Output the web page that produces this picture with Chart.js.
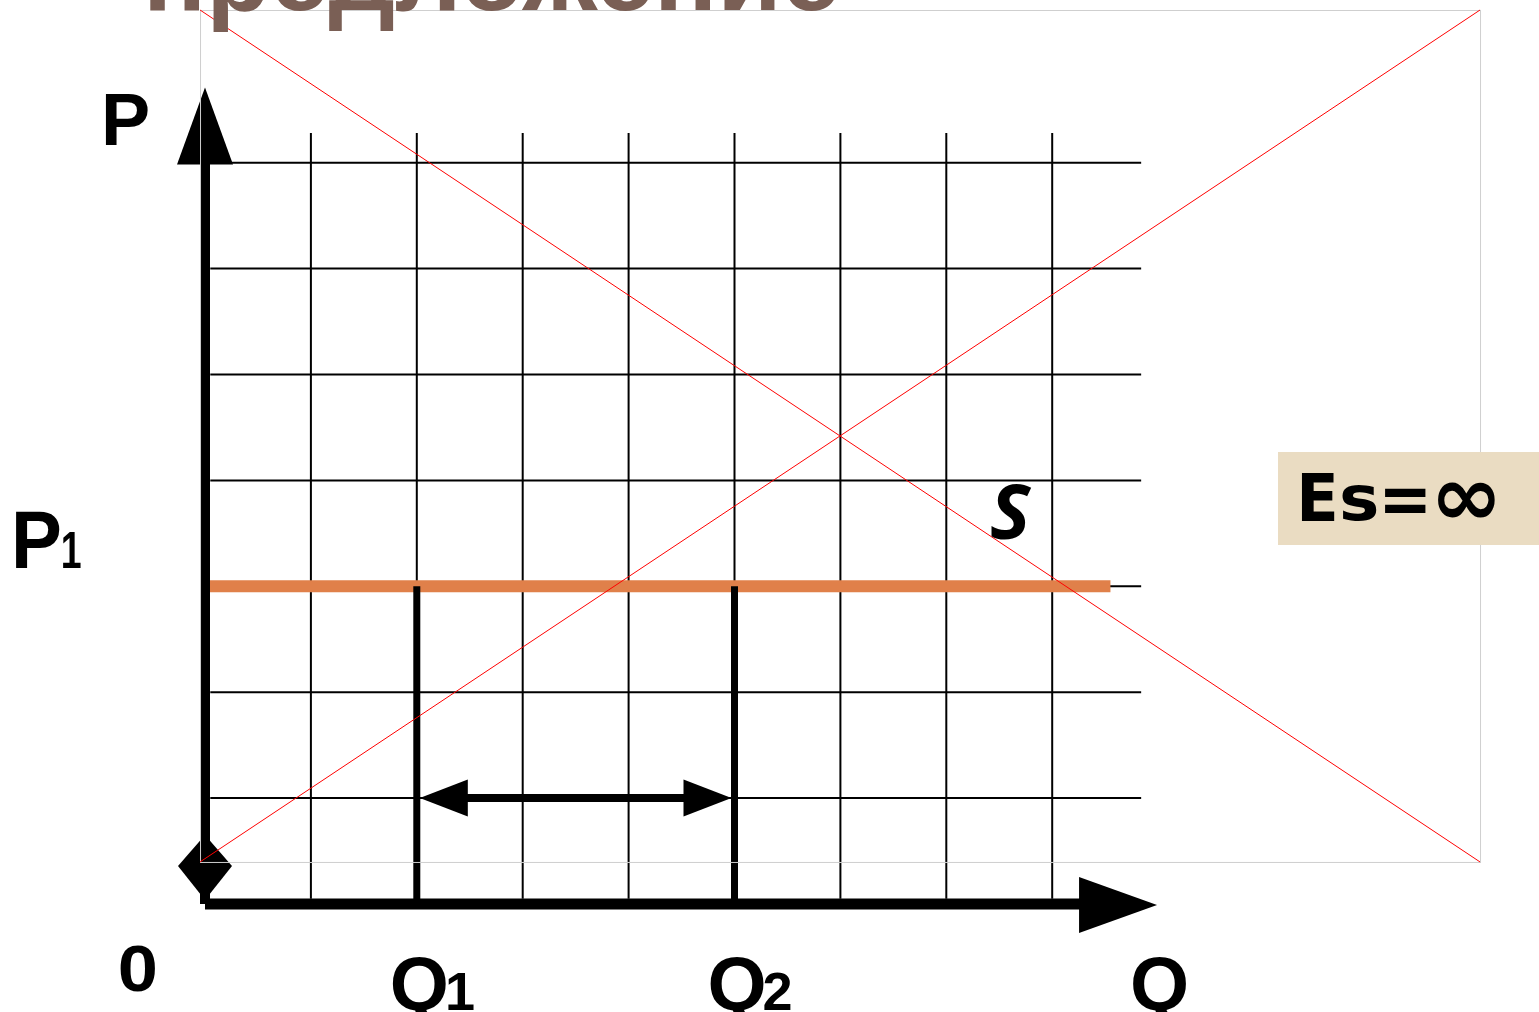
<!DOCTYPE html>
<html><head><meta charset="utf-8">
<script src="https://cdn.jsdelivr.net/npm/chart.js@4.4.0/dist/chart.umd.min.js"></script>
<style>html,body{margin:0;padding:0;background:#fff;overflow:hidden}#wrap{width:1539px;height:1012px;position:relative}</style>
</head><body><div id="wrap"><canvas id="c" width="1539" height="1012"></canvas></div>
<script>
// ---------- data (grid units: Q horizontally, P vertically) ----------
const gridQ = [1, 2, 3, 4, 5, 6, 7, 8];      // vertical grid lines
const gridP = [1, 2, 3, 4, 5, 6, 7];         // horizontal grid lines
const gridQMax = 8.84;                       // right end of horizontal grid lines
const gridPMax = 7.28;                       // top end of vertical grid lines
const supplyP = 3;                           // P1 (perfectly elastic supply)
const supplyQ = [0, 8.55];                   // extent of the S line
const qMarks = [2, 5];                       // Q1, Q2
const qSubs = ['1', '2'];
const arrowP = 1;                            // level of the double arrow
const axisQEnd = 8.99;                       // tip of Q axis arrow
const axisPEnd = 7.71;                       // tip of P axis arrow
const titleText = 'предложение';
const elasticityGlyphs = ['E', 's', '=', '∞'];
const supplyLabel = 'S';

// ---------- layout ----------
const U = 105.9, OX = 205, OY = 904, W = 1539, H = 1012;

const mk = (pts, color, w, order) => ({
  data: pts, borderColor: color, backgroundColor: color, borderWidth: w,
  pointRadius: 0, showLine: true, fill: false, tension: 0,
  borderCapStyle: 'butt', clip: false, order: order
});
const datasets = [];
gridQ.forEach(q => datasets.push(mk([{x: q, y: 0.05}, {x: q, y: gridPMax}], '#000', 2, 5)));
gridP.forEach(p => datasets.push(mk([{x: 0.05, y: p}, {x: gridQMax, y: p}], '#000', 2, 5)));
datasets.push(mk([{x: supplyQ[0], y: supplyP}, {x: supplyQ[1], y: supplyP}], '#E0804A', 12, 3));
qMarks.forEach(q => datasets.push(mk([{x: q, y: 0}, {x: q, y: supplyP}], '#000', 7, 2)));
datasets.push(mk([{x: qMarks[0] + 0.3, y: arrowP}, {x: qMarks[1] - 0.3, y: arrowP}], '#000', 8, 2));
datasets.push(mk([{x: 0, y: 0}, {x: 0, y: axisPEnd - 0.6}], '#000', 10, 1));
datasets.push(mk([{x: 0, y: 0}, {x: axisQEnd - 0.6, y: 0}], '#000', 11, 1));

function poly(ctx, pts, color) {
  ctx.beginPath();
  ctx.moveTo(pts[0][0], pts[0][1]);
  for (let i = 1; i < pts.length; i++) ctx.lineTo(pts[i][0], pts[i][1]);
  ctx.closePath();
  ctx.fillStyle = color;
  ctx.fill();
}
function fitText(ctx, txt, font, x, y, width, color) {
  ctx.save();
  ctx.font = font;
  const m = ctx.measureText(txt).width;
  ctx.translate(x, y);
  if (width) ctx.scale(width / m, 1);
  ctx.fillStyle = color;
  ctx.textBaseline = 'alphabetic';
  ctx.textAlign = 'left';
  ctx.fillText(txt, 0, 0);
  ctx.restore();
}
// draw a glyph so that its ink fills the box (l,t)-(r,b)
function inkBox(ctx, txt, font, l, t, r, b, color) {
  ctx.save();
  ctx.font = font;
  ctx.textBaseline = 'alphabetic';
  ctx.textAlign = 'left';
  const m = ctx.measureText(txt);
  const iw = m.actualBoundingBoxLeft + m.actualBoundingBoxRight;
  const ih = m.actualBoundingBoxAscent + m.actualBoundingBoxDescent;
  const sx = (r - l) / iw, sy = (b - t) / ih;
  ctx.translate(l + m.actualBoundingBoxLeft * sx, t + m.actualBoundingBoxAscent * sy);
  ctx.scale(sx, sy);
  ctx.fillStyle = color;
  ctx.fillText(txt, 0, 0);
  ctx.restore();
}

const decor = {
  id: 'decor',
  afterDatasetsDraw(chart) {
    const ctx = chart.ctx, xs = chart.scales.x, ys = chart.scales.y;
    const X = v => xs.getPixelForValue(v), Y = v => ys.getPixelForValue(v);
    const x0 = X(0), y0 = Y(0);
    ctx.save();
    // arrowheads
    const ty = Y(axisPEnd);
    poly(ctx, [[x0, ty], [x0 + 28, ty + 77], [x0 - 28, ty + 77]], '#000');
    const tx = X(axisQEnd);
    poly(ctx, [[tx, y0 + 1], [tx - 78, y0 - 27], [tx - 78, y0 + 29]], '#000');
    poly(ctx, [[x0, y0 - 69], [x0 + 27, y0 - 38], [x0, y0 - 4], [x0 - 27, y0 - 38]], '#000');
    const ay = Y(arrowP), l = X(qMarks[0]) + 3, r = X(qMarks[1]) - 3;
    poly(ctx, [[l, ay], [l + 48, ay - 18.5], [l + 48, ay + 18.5]], '#000');
    poly(ctx, [[r, ay], [r - 48, ay - 18.5], [r - 48, ay + 18.5]], '#000');

    // picture placeholder (grey frame with red cross)
    const rl = X(-0.047), rr = X(12.04), rt = Y(8.442), rb = Y(0.397);
    ctx.lineWidth = 1;
    ctx.strokeStyle = '#cfcfcf';
    ctx.strokeRect(rl + 0.5, rt + 0.5, rr - rl, rb - rt);
    ctx.strokeStyle = '#ff0000';
    ctx.beginPath();
    ctx.moveTo(rl, rt); ctx.lineTo(rr, rb);
    ctx.moveTo(rr, rt); ctx.lineTo(rl, rb);
    ctx.stroke();

    // title (cut off at the top)
    fitText(ctx, titleText, 'bold 104px "Liberation Sans"', 143, 10, 697, '#7A5F55');

    // axis labels
    const LS = '"Liberation Sans"';
    inkBox(ctx, 'P', 'bold 72px ' + LS, 105, 93, 148, 145, '#000');
    const py = Y(supplyP);
    inkBox(ctx, 'P', 'bold 78px ' + LS, 16, py - 74, 60, py - 18, '#000');
    inkBox(ctx, '1', 'bold 50px ' + LS, 63, py - 54, 81, py - 18, '#000');
    inkBox(ctx, '0', 'bold 66px ' + LS, 120, 945, 155, 992, '#000');
    qMarks.forEach((q, i) => {
      const px = X(q) - 27;
      ctx.save();
      ctx.font = 'bold 76px ' + LS;
      const w = ctx.measureText('Q').width;
      ctx.restore();
      fitText(ctx, 'Q', 'bold 76px ' + LS, px, 1010, 0, '#000');
      fitText(ctx, qSubs[i], 'bold 54px ' + LS, px + w - 4, 1010, 0, '#000');
    });
    fitText(ctx, 'Q', 'bold 76px ' + LS, 1130, 1010, 0, '#000');

    // S label
    fitText(ctx, supplyLabel, 'italic bold 76px "Open Sans"', 990, 539, 0, '#000');

    // elasticity box
    ctx.fillStyle = '#EADCC2';
    ctx.fillRect(1278, 452, W - 1278, 93);
    const F = 'bold 66px "DejaVu Sans"';
    const boxes = [[1302, 473, 1335, 521], [1342, 485, 1377, 521], [1385, 487, 1426, 512], [1438, 482, 1495, 519]];
    elasticityGlyphs.forEach((g, i) => inkBox(ctx, g, F, boxes[i][0], boxes[i][1], boxes[i][2], boxes[i][3], '#000'));
    ctx.restore();
  }
};

new Chart(document.getElementById('c'), {
  type: 'scatter',
  data: { datasets },
  options: {
    responsive: false, animation: false, devicePixelRatio: 1,
    layout: { padding: 0 },
    plugins: { legend: { display: false }, tooltip: { enabled: false }, title: { display: false } },
    scales: {
      x: { type: 'linear', display: false, min: -OX / U, max: (W - OX) / U },
      y: { type: 'linear', display: false, min: -(H - OY) / U, max: OY / U }
    }
  },
  plugins: [decor]
});
</script>
</body></html>
